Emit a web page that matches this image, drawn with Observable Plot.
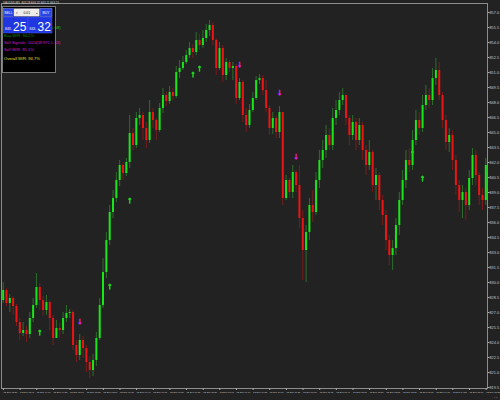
<!DOCTYPE html>
<html><head><meta charset="utf-8">
<script src="https://cdn.jsdelivr.net/npm/d3@7"></script>
<script src="https://cdn.jsdelivr.net/npm/@observablehq/plot@0.6"></script>
<style>html,body{margin:0;padding:0;background:#222;} #chart{width:500px;height:400px;}</style>
</head><body><div id="chart"></div>
<script>
const firstOpen = 828.2;
const closes = [
829.2,827.9,828.4,827.6,826.0,824.9,825.2,824.8,826.4,827.7,
829.5,828.2,827.2,828.0,826.4,824.4,825.4,825.2,826.4,826.9,
827.0,823.7,822.7,824.2,823.4,822.0,821.2,822.2,824.4,827.7,
831.0,834.2,837.0,838.4,840.2,841.7,840.9,842.0,844.9,843.7,
846.4,846.7,845.4,844.2,847.0,846.2,845.2,847.4,848.7,848.1,
849.0,848.6,851.0,851.4,852.0,852.7,853.4,853.0,854.2,853.7,
854.4,855.2,855.7,854.2,851.4,853.4,850.7,852.0,851.4,851.6,
848.4,850.0,846.7,845.7,847.2,848.4,850.2,850.4,849.2,847.4,
845.4,846.4,845.0,847.0,838.4,840.2,839.0,841.0,839.7,836.4,
833.2,835.0,837.7,837.0,840.2,842.2,843.2,844.7,843.7,846.4,
847.2,848.2,848.7,846.4,844.7,846.0,844.2,845.7,843.2,841.7,
843.0,839.7,840.7,838.2,836.7,834.2,832.7,833.4,835.7,838.2,
840.2,842.2,841.7,844.2,846.2,845.4,847.7,848.7,848.2,850.4,
851.2,848.7,846.2,844.0,844.7,842.2,839.7,838.2,839.0,837.7,
840.4,842.7,840.7,838.7,838.2,841.7];
const highs = [
830.0,829.4,828.8,828.6,827.8,826.4,826.0,825.6,827.0,828.4,
830.9,829.9,828.6,828.7,828.2,826.7,826.2,825.9,827.0,827.7,
827.3,827.2,824.2,824.8,824.6,823.7,822.6,822.8,825.0,828.4,
832.4,835.0,837.7,839.2,841.0,842.2,842.0,842.4,846.7,845.4,
847.0,847.4,847.0,846.0,848.2,847.4,846.4,847.9,849.4,849.0,
849.6,849.4,851.6,852.2,852.6,853.2,854.0,853.8,855.0,854.8,
855.2,855.8,856.2,856.0,854.4,854.0,853.7,852.4,852.2,852.0,
851.8,850.4,850.2,847.4,847.8,849.0,850.6,850.8,850.7,850.2,
847.7,847.0,846.7,847.6,846.7,840.7,840.4,841.7,841.2,841.7,
837.2,835.7,838.4,839.2,841.0,843.2,844.2,845.7,845.4,847.4,
848.2,849.0,849.4,848.6,846.7,846.7,846.4,846.4,846.0,843.7,
844.2,843.2,841.4,841.0,838.7,837.2,834.7,834.2,836.4,839.0,
841.2,843.2,843.4,845.2,847.2,847.0,848.7,849.7,849.4,851.4,
852.4,852.0,849.0,846.7,845.4,845.2,842.7,840.2,839.7,839.4,
841.2,843.4,843.2,841.0,839.4,842.4];
const lows = [
827.9,827.6,827.0,826.7,825.6,824.2,824.6,824.0,824.4,826.0,
827.4,827.2,826.6,826.7,825.2,823.7,824.6,824.4,824.8,826.0,
826.4,823.2,822.0,822.2,822.4,821.0,820.4,820.6,821.6,824.2,
827.4,830.4,833.7,836.4,838.0,839.6,840.2,840.6,841.4,843.2,
843.4,845.7,844.2,843.4,843.9,845.4,844.2,845.0,846.9,847.6,
847.8,848.2,848.4,850.4,851.2,851.8,852.4,852.4,852.7,853.2,
853.4,854.0,854.6,853.7,850.7,851.2,850.0,850.2,851.0,850.2,
847.8,848.2,846.0,845.0,845.4,847.0,848.2,849.8,848.7,847.0,
844.7,844.8,844.4,844.4,837.7,838.2,838.4,838.4,839.0,835.4,
830.2,830.0,834.2,836.0,836.7,839.4,841.4,842.4,843.2,843.2,
845.7,846.7,847.7,845.7,843.7,844.2,843.2,843.7,842.2,840.7,
841.2,839.0,838.2,837.2,835.7,833.2,831.7,831.2,832.7,834.7,
837.7,839.4,841.0,841.2,843.7,844.7,845.0,847.2,847.4,847.7,
849.7,848.2,845.4,843.2,843.0,841.2,838.7,837.0,836.4,836.2,
837.2,839.7,839.7,837.7,837.2,837.7];
const buyIdx = [11, 32, 38, 57, 59, 123, 126];
const buyPrice = [825.0, 829.6, 838.2, 850.8, 851.4, 842.9, 840.4];
const sellIdx = [23, 71, 83, 88];
const sellPrice = [826.1, 851.8, 849.0, 842.6];
const yTicks = [857.0,855.5,854.0,852.5,851.0,849.5,848.0,846.5,845.0,843.5,842.0,840.5,839.0,
  837.5,836.0,834.5,833.0,831.5,830.0,828.5,827.0,825.5,824.0,822.5,821.0,819.5];
const xTickIdx = [0,5,10,15,20,25,30,35,40,45,50,55,60,65,70,75,80,85,90,95,100,105,110,115,120,125,130,135,140,145];
const xTickLabels = ["12 Sep 03:20","12 Sep 03:45","12 Sep 04:10","12 Sep 04:35","12 Sep 05:00","12 Sep 05:25",
  "12 Sep 05:50","12 Sep 06:15","12 Sep 06:40","12 Sep 07:05","12 Sep 07:30","12 Sep 07:55","12 Sep 08:20",
  "12 Sep 08:45","12 Sep 09:10","12 Sep 09:35","12 Sep 10:00","12 Sep 10:25","12 Sep 10:50","12 Sep 11:15",
  "12 Sep 11:40","12 Sep 12:05","12 Sep 12:30","12 Sep 12:55","12 Sep 13:20","12 Sep 13:45","12 Sep 14:10",
  "12 Sep 14:35","12 Sep 15:00","12 Sep 15:25"];
const titleText = "XAUUSD,M5  843.28 843.32 843.11 843.25";
const lotText = "0.01";
const bidText = ["843.", "25"];
const askText = ["843.", "32"];
const statLines = [
  {t: "Buy W/R: 94.2%", c: "#158a15"},
  {t: "Sell Signals: 1024(W:971 L:53)", c: "#d01ed0"},
  {t: "Sell W/R: 95.1%", c: "#d01ed0"},
  {t: "Overall W/R: 94.7%", c: "#e0e040"}
];
const buySignalsText = "Buy Signals: 1001(W:943 L:58)";

const candles = closes.map((c, i) => {
  const open = i === 0 ? firstOpen : closes[i - 1];
  return {i, open, close: c, high: Math.max(highs[i], open, c), low: Math.min(lows[i], open, c)};
});
const buys = buyIdx.map((d, k) => ({i: d, p: buyPrice[k]}));
const sells = sellIdx.map((d, k) => ({i: d, p: sellPrice[k]}));
const up = d => d.close >= d.open;
const font = "Liberation Sans, Arial, sans-serif";

const chart = Plot.plot({
  width: 500, height: 400,
  marginTop: 3, marginBottom: 12, marginLeft: 1, marginRight: 13,
  style: {background: "#222222", color: "#c8c8c8", fontFamily: font},
  x: {domain: [-0.5, closes.length - 0.5], axis: null},
  y: {domain: [819.4, 857.9], axis: null},
  marks: [
    Plot.ruleX(candles, {x: "i", y1: "low", y2: "high", stroke: d => up(d) ? "#2c6e2c" : "#7a1b1b", strokeWidth: 1}),
    Plot.ruleX(candles, {x: "i", y1: "open", y2: "close", stroke: d => up(d) ? "#19e619" : "#ec1414", strokeWidth: 2}),
    Plot.text(buys, {x: "i", y: "p", text: () => "↑", fill: "#1fd81f", stroke: "#1fd81f", strokeWidth: 0.8, fontSize: 9, fontWeight: "bold"}),
    Plot.text(sells, {x: "i", y: "p", text: () => "↓", fill: "#d81fd8", stroke: "#d81fd8", strokeWidth: 0.8, fontSize: 9, fontWeight: "bold"}),
    Plot.frame({stroke: "#8c8c8c"}),
    Plot.axisY({anchor: "right", ticks: yTicks, tickFormat: d => d.toFixed(1), tickSize: 1.5, tickPadding: 0.5, fontSize: 3.8, stroke: "#aaa", fill: "#c8c8c8"}),
    Plot.axisX({ticks: xTickIdx, tickFormat: d => xTickLabels[xTickIdx.indexOf(d)], textAnchor: "start", tickSize: 2, tickPadding: 1, dx: 0.3, fontSize: 2.35, stroke: "#aaa", fill: "#c8c8c8"})
  ]
});
document.getElementById("chart").appendChild(chart);

const g = d3.select(chart).append("g").attr("font-family", font).attr("text-anchor", "start");
g.append("text").attr("x", 3).attr("y", 4.2).attr("font-size", 2.9).attr("fill", "#d0d0d0").text(titleText);
g.append("rect").attr("x", 2.5).attr("y", 6.5).attr("width", 53).attr("height", 66).attr("fill", "#000").attr("stroke", "#7a7a7a");
g.append("text").attr("x", 4).attr("y", 29).attr("font-size", 4.1).attr("fill", "#1ec81e").text(buySignalsText);
// buttons row
g.append("rect").attr("x", 3.5).attr("y", 8.5).attr("width", 10).attr("height", 8).attr("fill", "#2a44e6").attr("stroke", "#8796ff").attr("stroke-width", 0.5);
g.append("text").attr("x", 8.5).attr("y", 13.8).attr("text-anchor", "middle").attr("font-size", 3.4).attr("fill", "#fff").text("SELL");
g.append("rect").attr("x", 14).attr("y", 8.5).attr("width", 25.5).attr("height", 8).attr("fill", "#ececec");
g.append("text").attr("x", 16.5).attr("y", 13.8).attr("text-anchor", "middle").attr("font-size", 3.2).attr("fill", "#555").text("▾");
g.append("text").attr("x", 37).attr("y", 13.8).attr("text-anchor", "middle").attr("font-size", 3.2).attr("fill", "#555").text("▴");
g.append("text").attr("x", 26.75).attr("y", 13.8).attr("text-anchor", "middle").attr("font-size", 3.4).attr("fill", "#111").text(lotText);
g.append("rect").attr("x", 40).attr("y", 8.5).attr("width", 12).attr("height", 8).attr("fill", "#2a44e6").attr("stroke", "#8796ff").attr("stroke-width", 0.5);
g.append("text").attr("x", 46).attr("y", 13.8).attr("text-anchor", "middle").attr("font-size", 3.4).attr("fill", "#fff").text("BUY");
// big price row
[[3.5, bidText], [28, askText]].forEach(([x0, t]) => {
  g.append("rect").attr("x", x0).attr("y", 17).attr("width", 24).attr("height", 16).attr("fill", "#1f36e0").attr("stroke", "#4a62ff").attr("stroke-width", 0.5);
  g.append("text").attr("x", x0 + 1.5).attr("y", 29.5).attr("font-size", 3.4).attr("fill", "#fff").text(t[0]);
  g.append("text").attr("x", x0 + 9.5).attr("y", 30.5).attr("font-size", 12).attr("fill", "#fff").text(t[1]);
});
statLines.forEach((s, k) => {
  g.append("text").attr("x", 4).attr("y", [36.5, 44, 51, 60][k]).attr("font-size", 4.1).attr("fill", s.c).text(s.t);
});
</script></body></html>
